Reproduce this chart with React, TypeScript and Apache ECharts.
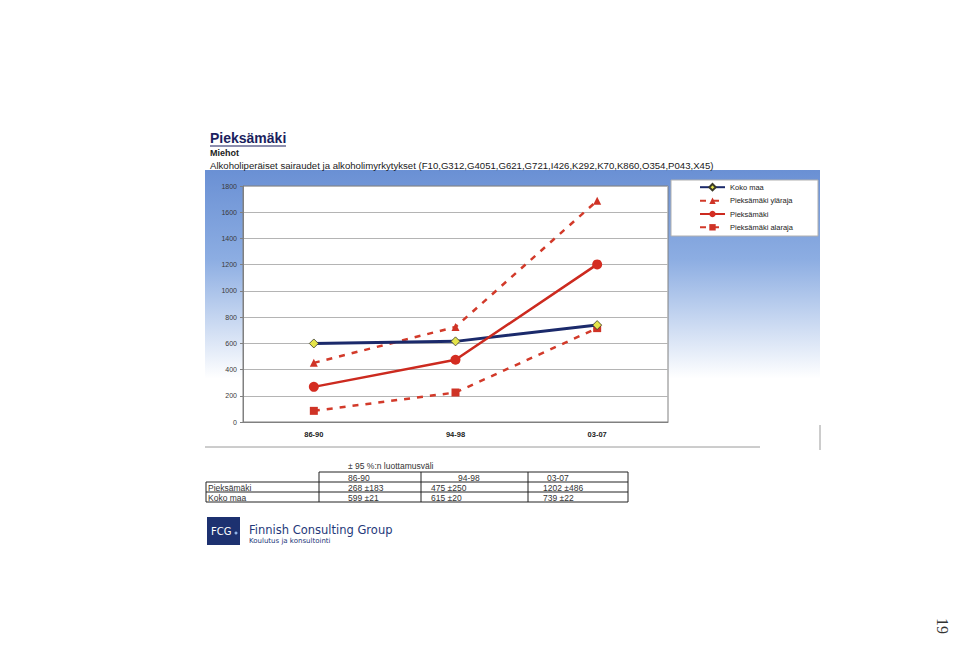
import React, { useEffect, useRef } from 'react';
import * as echarts from 'echarts';

// ---- data ----
const categories = ['86-90', '94-98', '03-07'];
const kokoMaa = [599, 615, 739];
const kokoMaaMargin = [21, 20, 22];
const pieksamaki = [268, 475, 1202];
const pieksamakiMargin = [183, 250, 486];
const ylaraja = [451, 725, 1688];
const alaraja = [85, 225, 716];
const seriesNames = ['Koko maa', 'Pieksämäki yläraja', 'Pieksämäki', 'Pieksämäki alaraja'];
const yMin = 0;
const yMax = 1800;
const yInterval = 200;

const titleText = 'Pieksämäki';
const subTitleText = 'Miehot';
const descText = 'Alkoholiperäiset sairaudet ja alkoholimyrkytykset (F10,G312,G4051,G621,G721,I426,K292,K70,K860,O354,P043,X45)';
const tableCaption = '± 95 %:n luottamusväli';
const tableRowLabels = ['Pieksämäki', 'Koko maa'];
const tableRowValues = [pieksamaki, kokoMaa];
const tableRowMargins = [pieksamakiMargin, kokoMaaMargin];
const companyName = 'Finnish Consulting Group';
const companyTag = 'Koulutus ja konsultointi';
const logoText = 'FCG';
const pageNumber = '19';

const FONT = '"Liberation Sans", Arial, sans-serif';

function txt(text: string, x: number, y: number, size: number, opts: any = {}) {
  const weight = opts.bold ? 'bold ' : '';
  const family = opts.family || FONT;
  return {
    type: 'text',
    x,
    y,
    rotation: opts.rotation || 0,
    z: opts.z ?? 5,
    silent: true,
    style: {
      text,
      font: `${weight}${size}px ${family}`,
      fill: opts.color || '#222',
      textAlign: opts.align || 'left',
      align: opts.align || 'left',
      textVerticalAlign: 'middle',
      verticalAlign: 'middle',
    },
  };
}

function ln(x1: number, y1: number, x2: number, y2: number, color = '#222', w = 1, z = 5) {
  return {
    type: 'line',
    silent: true,
    z,
    shape: { x1, y1, x2, y2 },
    style: { stroke: color, lineWidth: w },
  };
}

function buildGraphic() {
  const g: any[] = [];
  // gradient frame behind chart
  g.push({
    type: 'rect',
    z: -10,
    silent: true,
    shape: { x: 205, y: 170, width: 615, height: 278 },
    style: {
      fill: new echarts.graphic.LinearGradient(0, 0, 0, 1, [
        { offset: 0, color: '#6a90d4' },
        { offset: 0.32, color: '#8cade2' },
        { offset: 0.75, color: '#ffffff' },
        { offset: 1, color: '#ffffff' },
      ]),
    },
  });
  g.push(ln(205, 447, 760, 447, '#9a9a9a', 1, -5));
  g.push(ln(820, 425, 820, 450, '#9a9a9a', 1, -5));
  // legend box
  g.push({
    type: 'rect',
    z: 1,
    silent: true,
    shape: { x: 671, y: 180, width: 147, height: 56 },
    style: { fill: '#ffffff', stroke: '#b0b0b0', lineWidth: 1 },
  });

  // titles
  g.push(txt(titleText, 210, 138, 14, { bold: true, color: '#1b1f5e' }));
  g.push(ln(210, 146, 286, 146, '#1b1f5e', 1.2));
  g.push(txt(subTitleText, 210, 153, 9, { bold: true, color: '#222' }));
  g.push(txt(descText, 210, 165, 9.6, { color: '#1a1a1a' }));

  // table
  const colX = [206, 319, 421, 528, 628];
  const rowY = [472, 482, 492, 502];
  const headerTextX = [348, 458, 547];
  const valueTextX = [348, 431, 543];
  g.push(txt(tableCaption, 348, 466, 8.5, { color: '#333' }));
  g.push(ln(colX[1], rowY[0], colX[4], rowY[0]));
  for (let r = 1; r < rowY.length; r++) g.push(ln(colX[0], rowY[r], colX[4], rowY[r]));
  g.push(ln(colX[0], rowY[1], colX[0], rowY[3]));
  for (let c = 1; c < colX.length; c++) g.push(ln(colX[c], rowY[0], colX[c], rowY[3]));
  categories.forEach((cat, i) => {
    g.push(txt(cat, headerTextX[i], (rowY[0] + rowY[1]) / 2 + 0.5, 8.5, { color: '#333' }));
  });
  tableRowLabels.forEach((label, r) => {
    const yc = (rowY[r + 1] + rowY[r + 2]) / 2 + 0.5;
    g.push(txt(label, 208, yc, 8.5, { color: '#333' }));
    tableRowValues[r].forEach((v, i) => {
      g.push(txt(`${v} ±${tableRowMargins[r][i]}`, valueTextX[i], yc, 8.5, { color: '#333' }));
    });
  });

  // logo
  g.push({
    type: 'rect',
    z: 5,
    silent: true,
    shape: { x: 207, y: 517, width: 33, height: 28 },
    style: { fill: '#1d3170' },
  });
  g.push(txt(logoText, 211, 531, 10, { color: '#ffffff', family: '"DejaVu Sans", sans-serif' }));
  g.push({
    type: 'circle',
    z: 6,
    silent: true,
    shape: { cx: 236, cy: 533, r: 1.5 },
    style: { fill: '#8fb3e8' },
  });
  g.push(txt(companyName, 249, 530, 11.5, { color: '#24397a', family: '"DejaVu Sans", sans-serif' }));
  g.push(txt(companyTag, 249, 540.5, 7, { color: '#24397a', family: '"DejaVu Sans", sans-serif' }));

  // page number
  g.push(txt(pageNumber, 942, 626, 16, { color: '#333', family: '"Liberation Serif", serif', rotation: -Math.PI / 2, align: 'center' }));
  return g;
}

export default function App() {
  const ref = useRef<HTMLDivElement>(null);
  useEffect(() => {
    if (!ref.current) return;
    const chart = echarts.init(ref.current, undefined, { renderer: 'svg' });
    const dashed = [6, 7];
    const option: any = {
      animation: false,
      backgroundColor: '#ffffff',
      textStyle: { fontFamily: FONT },
      graphic: { elements: buildGraphic() },
      legend: {
        data: seriesNames,
        orient: 'vertical',
        left: 699,
        top: 183,
        padding: 0,
        itemWidth: 25,
        itemHeight: 8,
        itemGap: 5.3,
        z: 6,
        textStyle: { fontSize: 7.5, color: '#222', fontFamily: FONT },
      },
      grid: {
        left: 243,
        right: 960 - 668,
        top: 186,
        bottom: 670 - 422,
        show: true,
        backgroundColor: '#ffffff',
        borderColor: '#808080',
        borderWidth: 1,
        containLabel: false,
      },
      xAxis: {
        type: 'category',
        data: categories,
        boundaryGap: true,
        axisLine: { show: true, lineStyle: { color: '#808080' } },
        axisTick: { show: false },
        axisLabel: { fontSize: 7.5, fontWeight: 'bold', color: '#222', margin: 8 },
      },
      yAxis: {
        type: 'value',
        min: yMin,
        max: yMax,
        interval: yInterval,
        axisLine: { show: true, lineStyle: { color: '#808080' } },
        axisTick: { show: true, length: 3, lineStyle: { color: '#808080' } },
        axisLabel: { fontSize: 7, color: '#3a3a3a', margin: 6, formatter: (v: number) => String(v) },
        splitLine: { show: true, lineStyle: { color: '#b4b4b4', width: 1 } },
      },
      series: [
        {
          name: seriesNames[0],
          type: 'line',
          data: kokoMaa,
          symbol: 'diamond',
          symbolSize: 9,
          lineStyle: { color: '#1b2a6b', width: 3 },
          itemStyle: { color: '#e4e44a', borderColor: '#3a3a2a', borderWidth: 0.8 },
          z: 3,
        },
        {
          name: seriesNames[1],
          type: 'line',
          data: ylaraja,
          symbol: 'triangle',
          symbolSize: 8,
          lineStyle: { color: '#d23a2a', width: 2.5, type: dashed },
          itemStyle: { color: '#cf3326' },
          z: 2,
        },
        {
          name: seriesNames[2],
          type: 'line',
          data: pieksamaki,
          symbol: 'circle',
          symbolSize: 10,
          lineStyle: { color: '#cc2a1f', width: 2.5 },
          itemStyle: { color: '#d42d22' },
          z: 4,
        },
        {
          name: seriesNames[3],
          type: 'line',
          data: alaraja,
          symbol: 'rect',
          symbolSize: 8,
          lineStyle: { color: '#d23a2a', width: 2.5, type: dashed },
          itemStyle: { color: '#cf3326' },
          z: 2,
        },
      ],
    };
    chart.setOption(option);
    return () => chart.dispose();
  }, []);
  return (
    <div
      ref={ref}
      style={{ position: 'fixed', left: 0, top: 0, width: 960, height: 670, background: '#fff' }}
    />
  );
}
